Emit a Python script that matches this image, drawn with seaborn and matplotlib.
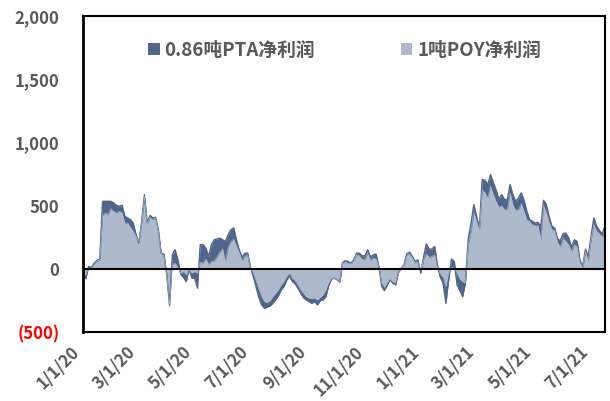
import pandas as pd
import matplotlib
matplotlib.use("Agg")
import matplotlib.pyplot as plt
from matplotlib.ticker import FixedLocator
import seaborn as sns

# Net profit series (yuan/ton), sampled every 3 days from 2020-01-01
pta_profit = [
    -8, -79, 19, 11, 45, 66, 79, 534, 534, 534,
    534, 521, 503, 495, 503, 415, 402, 389, 362, 270,
    205, 370, 587, 362, 423, 402, 407, 310, 124, 116,
    -48, -291, 111, 151, 71, -42, -69, -101, 0, -74,
    -74, -153, 191, 191, 164, 98, 191, 230, 235, 243,
    230, 217, 270, 310, 323, 225, 146, 93, 124, 124,
    11, -61, -146, -228, -286, -312, -304, -294, -273, -246,
    -214, -167, -140, -87, -56, -101, -119, -153, -193, -228,
    -246, -259, -273, -259, -286, -251, -246, -220, -135, -82,
    -74, -87, -106, 50, 64, 58, 45, 71, 124, 124,
    103, 103, 151, 93, 111, 116, 19, -140, -172, -127,
    -87, -114, -127, -29, 3, 32, 119, 132, 98, 58,
    71, -34, 93, 198, 156, 156, 177, 24, -66, -114,
    -273, -87, 77, 58, -127, -172, -220, -114, 235, 360,
    508, 415, 323, 706, 701, 667, 746, 680, 622, 553,
    587, 548, 548, 667, 587, 534, 561, 601, 542, 455,
    389, 376, 362, 368, 336, 542, 508, 410, 336, 323,
    235, 225, 278, 283, 243, 172, 230, 217, 71, 19,
    156, 98, 257, 402, 336, 304, 278, 341,
]
poy_profit = [
    -8, -53, 5, 5, 37, 61, 69, 420, 442, 429,
    476, 455, 442, 455, 442, 362, 362, 328, 296, 257,
    215, 362, 574, 355, 407, 389, 402, 296, 124, 98,
    -42, -286, 32, 45, 11, -34, -21, -48, -8, -34,
    -21, -34, 53, 45, 79, 32, 58, 64, 93, 130,
    159, 58, 169, 217, 235, 177, 132, 64, 98, 111,
    11, -34, -93, -161, -220, -259, -267, -251, -220, -193,
    -167, -127, -101, -61, -34, -74, -93, -127, -167, -193,
    -220, -233, -233, -233, -246, -225, -206, -167, -114, -82,
    -74, -87, -106, 45, 53, 45, 40, 64, 111, 103,
    77, 71, 124, 66, 85, 77, 19, -114, -146, -114,
    -82, -101, -114, -29, 3, 32, 108, 119, 85, 45,
    56, -8, 71, 119, 90, 98, 111, 13, -40, -66,
    -140, -34, 11, 5, -34, -79, -101, -114, 183, 296,
    442, 376, 304, 627, 601, 561, 654, 587, 532, 487,
    500, 468, 468, 601, 508, 463, 468, 516, 455, 389,
    373, 349, 341, 341, 230, 500, 442, 368, 310, 304,
    209, 172, 241, 217, 191, 138, 191, 172, 58, 5,
    138, 58, 230, 349, 296, 278, 251, 304,
]
series_names = ["0.86吨PTA净利润", "1吨POY净利润"]
tick_dates = ["2020-01-01", "2020-03-01", "2020-05-01", "2020-07-01", "2020-09-01",
              "2020-11-01", "2021-01-01", "2021-03-01", "2021-05-01", "2021-07-01"]
tick_labels = ["1/1/20", "3/1/20", "5/1/20", "7/1/20", "9/1/20",
               "11/1/20", "1/1/21", "3/1/21", "5/1/21", "7/1/21"]
y_ticks = [-500, 0, 500, 1000, 1500, 2000]
y_labels = ["(500)", "0", "500", "1,000", "1,500", "2,000"]

dates = pd.date_range("2020-01-01", periods=len(pta_profit), freq="3D")
df = pd.DataFrame({"date": dates, "pta": pta_profit, "poy": poy_profit})

sns.set_theme(style="white")
plt.rcParams["font.family"] = ["Noto Sans CJK SC", "DejaVu Sans"]

DARK = "#516589"
LIGHT = "#AEBACB"
TEXT = "#595959"

fig = plt.figure(figsize=(6.1, 4.01), dpi=100)
ax = fig.add_axes([83 / 610, 1 - 332 / 401, (605 - 83) / 610, (332 - 16) / 401])

pta_fill = ax.fill_between(df["date"], 0, df["pta"], color=DARK, linewidth=0,
                           label=series_names[0])
sns.lineplot(data=df, x="date", y="pta", color=DARK, linewidth=1.0, ax=ax, legend=False)
poy_fill = ax.fill_between(df["date"], 0, df["poy"], color=LIGHT, linewidth=0,
                           label=series_names[1])
sns.lineplot(data=df, x="date", y="poy", color=LIGHT, linewidth=0.4, ax=ax, legend=False)
ax.axhline(0, color="black", linewidth=1.5, zorder=5)

ax.set_xlim(dates[0], dates[-1])
ax.set_ylim(-500, 2000)
ax.set_xlabel("")
ax.set_ylabel("")

ax.yaxis.set_major_locator(FixedLocator(y_ticks))
ax.set_yticklabels(y_labels, fontsize=12, fontweight="bold", color=TEXT)
for lab, val in zip(ax.get_yticklabels(), y_ticks):
    if val < 0:
        lab.set_color("#FF0000")
ax.tick_params(axis="y", direction="in", length=5, width=1.5, color="black", pad=17)

ax.set_xticks(pd.to_datetime(tick_dates))
ax.set_xticklabels(tick_labels, rotation=45, ha="right", fontsize=12,
                   fontweight="bold", color=TEXT)
ax.tick_params(axis="x", length=0, pad=8)

for side in ["left", "right", "top", "bottom"]:
    ax.spines[side].set_visible(True)
    ax.spines[side].set_color("black")
    ax.spines[side].set_linewidth(1.5)
ax.spines["left"].set_linewidth(2)

leg = ax.legend(handles=[pta_fill, poy_fill], labels=series_names, ncol=2,
                loc="center left", bbox_to_anchor=(139 / 610, 1 - 50 / 401),
                bbox_transform=fig.transFigure, frameon=False, borderpad=0,
                handlelength=0.6, handleheight=0.6, handletextpad=0.25,
                columnspacing=4.6,
                prop={"size": 13.5, "weight": "bold"})
for t in leg.get_texts():
    t.set_color(TEXT)

fig.savefig("out.png", dpi=100)
